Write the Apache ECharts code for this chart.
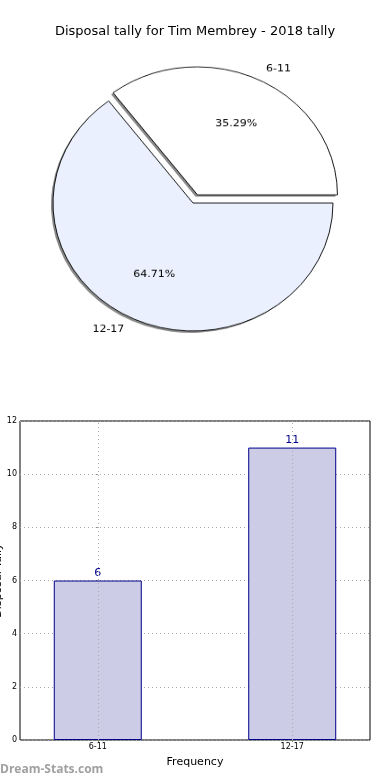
<!DOCTYPE html>
<html><head><meta charset="utf-8">
<script src="https://cdn.jsdelivr.net/npm/echarts@6/dist/echarts.min.js"></script>
<style>html,body{margin:0;padding:0;background:#fff;overflow:hidden}
#wrap{position:relative;width:390px;height:780px}
#c{position:absolute;left:0;top:0;width:390px;height:780px}
#p{position:absolute;left:0;top:0;width:390px;height:400px;transform:scale(1,0.914);transform-origin:193px 203px}
</style>
</head><body><div id="wrap"><div id="c"></div><div id="p"></div></div>
<script>
const categories = ['6-11', '12-17'];
const tallies = [6, 11];
const yTicks = [0, 2, 4, 6, 8, 10, 12];
const titleText = 'Disposal tally for Tim Membrey - 2018 tally';

const FONT = 'DejaVu Sans';
const chart = echarts.init(document.getElementById('c'), null, {renderer: 'canvas'});
const pie = echarts.init(document.getElementById('p'), null, {renderer: 'canvas'});
const pieData = categories.map((c, i) => ({name: c, value: tallies[i], selected: i === 0}));
const pieColors = ['#ffffff', '#eaf0fd'];
const R = 140;

pie.setOption({
  animation: false,
  series: [
    { // shadow
      type: 'pie', center: [191, 205], radius: R, startAngle: 0, clockwise: false,
      selectedMode: 'single', selectedOffset: 10, data: pieData,
      itemStyle: {color: '#8a8a8a', borderWidth: 0},
      label: {show: false}, labelLine: {show: false}, emphasis: {disabled: true}, silent: true, z: 1
    },
    {
      type: 'pie', center: [193, 203], radius: R, startAngle: 0, clockwise: false,
      selectedMode: 'single', selectedOffset: 10, avoidLabelOverlap: false,
      data: pieData,
      itemStyle: {color: p => pieColors[p.dataIndex], borderColor: '#000', borderWidth: 0.9},
      label: {show: true, position: 'outside', formatter: '{b}', fontFamily: FONT, fontSize: 11, color: '#000', distanceToLabelLine: 0},
      labelLine: {show: false, length: 14, length2: 0},
      emphasis: {disabled: true}, silent: true, z: 2
    },
    {
      type: 'pie', center: [193, 203], radius: R * 1.2, startAngle: 0, clockwise: false,
      selectedMode: 'single', selectedOffset: 10,
      data: pieData,
      itemStyle: {color: 'rgba(0,0,0,0)', borderWidth: 0},
      label: {show: true, position: 'inside', formatter: '{d}%', fontFamily: FONT, fontSize: 11, color: '#000'},
      labelLine: {show: false},
      emphasis: {disabled: true}, silent: true, z: 5
    }
  ]
});

chart.setOption({
  animation: false,
  textStyle: {fontFamily: FONT},
  title: {text: titleText, left: 'center', top: 20, textStyle: {fontFamily: FONT, fontSize: 13, fontWeight: 'normal', color: '#000'}},
  graphic: [{type: 'text', left: 0, top: 764, style: {text: 'Dream-Stats.com', fill: '#a0a0a0', font: 'bold 12px "Open Sans", sans-serif'}}],
  grid: {left: 20, right: 20, top: 421, bottom: 40, containLabel: false, outerBoundsMode: 'none', show: true, borderColor: '#000', borderWidth: 1, backgroundColor: 'transparent'},
  xAxis: {
    type: 'value', min: -0.4, max: 1.4,
    name: 'Frequency', nameLocation: 'middle', nameGap: 17, nameMoveOverlap: false,
    nameTextStyle: {fontFamily: FONT, fontSize: 11, color: '#000'},
    axisLine: {show: false},
    axisTick: {show: true, inside: false, length: 2, customValues: [0, 1], lineStyle: {color: '#888'}},
    axisLabel: {customValues: [0, 1], formatter: v => categories[Math.round(v)], fontFamily: FONT, fontSize: 8, color: '#000', margin: 3},
    splitLine: {show: false}
  },
  yAxis: {
    type: 'value', min: 0, max: 12, interval: 2,
    name: 'Disposal Tally', nameLocation: 'middle', nameGap: 16, nameRotate: 90, nameMoveOverlap: false,
    nameTextStyle: {fontFamily: FONT, fontSize: 11, color: '#000'},
    axisLine: {show: false},
    axisTick: {show: true, inside: false, length: 2, lineStyle: {color: '#888'}},
    axisLabel: {formatter: v => yTicks.includes(v) ? String(v) : '', fontFamily: FONT, fontSize: 8, color: '#000', margin: 3},
    splitLine: {show: true, lineStyle: {color: '#aaa', type: [1, 3], width: 1}}
  },
  series: [
    {
      type: 'bar', barWidth: 88,
      data: tallies.map((v, i) => [i, v]),
      itemStyle: {color: '#ccccE6', borderColor: '#00008b', borderWidth: 1},
      label: {show: true, position: 'top', formatter: p => String(p.value[1]), fontFamily: FONT, fontSize: 11, color: '#00008b', distance: 2},
      markLine: {silent: true, symbol: 'none', label: {show: false},
        lineStyle: {color: '#aaa', type: [1, 3], width: 1},
        data: [{xAxis: 0}, {xAxis: 1}]},
      z: 2
    }
  ]
});
</script></body></html>
